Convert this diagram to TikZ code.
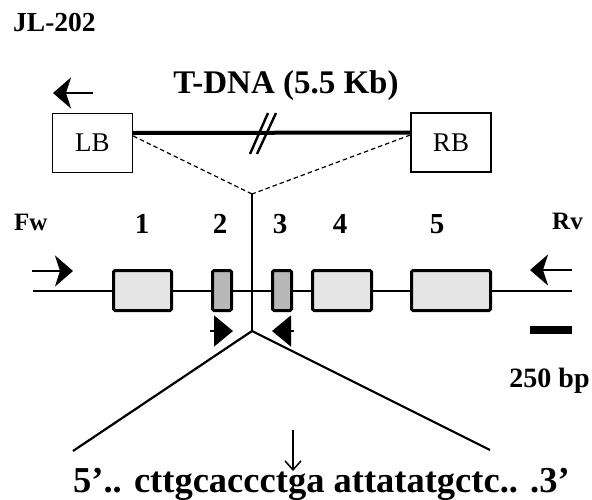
\documentclass[tikz,border=0pt]{standalone}
\usepackage{fontspec}
\setmainfont{Liberation Serif}
\usetikzlibrary{positioning, arrows.meta, calc}

\begin{document}
\begin{tikzpicture}[x=1pt, y=-1pt, >=latex,
    bordbox/.style={draw, line width=1.4pt, minimum width=80pt, minimum height=59pt,
        inner sep=0pt, font=\fontsize{27}{28}\selectfont},
    exon/.style={draw, line width=3pt, fill=black!10, minimum height=40pt,
        inner sep=0pt, rounded corners=1.5pt},
    primer/.style={line width=2.6pt, -{Stealth[length=18pt, width=31pt, inset=5pt]}},
    lbl/.style={anchor=base, inner sep=0pt, font=\fontsize{#1}{#1}\selectfont\bfseries},
]
\useasboundingbox (0,0) rectangle (592,499);

% --- Line name ---
\node[lbl=27.5, anchor=base west] (line) at (13,31) {JL-202};

% --- T-DNA insert ---
\node[bordbox] (LB) at (92.5,143) {LB};
\node[bordbox] (RB) at (451,142.5) {RB};
\node[lbl=33] (tdna) at (286,93) {T-DNA (5.5 Kb)};
\draw[line width=4pt] ([yshift=10pt]LB.east) -- ([yshift=10pt]RB.west);
% break marks
\coordinate (brk1a) at (250,154); \coordinate (brk1b) at (268,113);
\coordinate (brk2a) at (257,154); \coordinate (brk2b) at (276,113);
\draw[line width=2.4pt] (brk1a) -- (brk1b);
\draw[line width=2.4pt] (brk2a) -- (brk2b);
% LB primer
\coordinate (lbtail) at (93,93);
\coordinate (lbhead) at (53,93);
\draw[primer] (lbtail) -- (lbhead);

% --- Insertion site ---
\coordinate (ins) at (252,194);
\coordinate (apex) at (252,331);
\draw[line width=1.2pt, dash pattern=on 4.5pt off 3pt] ([yshift=7pt]LB.east) -- (ins);
\draw[line width=1.2pt, dash pattern=on 4.5pt off 3pt] ([yshift=7.5pt]RB.west) -- (ins);
\draw[line width=2pt] (ins) -- (apex);

% --- Gene ---
\coordinate (gstart) at (33,291);
\coordinate (gend) at (572,291);
\draw[line width=2.2pt] (gstart) -- (gend);
\node[exon, minimum width=58pt] (e1) at (142.5,290.5) {};
\node[exon, minimum width=19pt, fill=black!28] (e2) at (222,290.5) {};
\node[exon, minimum width=19pt, fill=black!28] (e3) at (282,290.5) {};
\node[exon, minimum width=59pt] (e4) at (342,290.5) {};
\node[exon, minimum width=79pt] (e5) at (451,290.5) {};

% exon numbers
\node[lbl=29] (n1) at (142,233) {1};
\node[lbl=29] (n2) at (220,233) {2};
\node[lbl=29] (n3) at (280,233) {3};
\node[lbl=29] (n4) at (340,233) {4};
\node[lbl=29] (n5) at (437,233) {5};

% Fw / Rv primers
\node[lbl=25, anchor=base west] (fw) at (14,230) {Fw};
\node[lbl=25, anchor=base west] (rv) at (552,229) {Rv};
\coordinate (fwtail) at (32,271); \coordinate (fwhead) at (73,271);
\coordinate (rvtail) at (572,270); \coordinate (rvhead) at (530,270);
\draw[primer] (fwtail) -- (fwhead);
\draw[primer] (rvtail) -- (rvhead);

% border primers
\coordinate (p1) at (210,331); \coordinate (p1h) at (233,331);
\coordinate (p2) at (294,331); \coordinate (p2h) at (272,331);
\draw[line width=1.5pt, -{Triangle[length=19pt, width=31pt]}] (p1) -- (p1h);
\draw[line width=1.5pt, -{Triangle[length=19pt, width=31pt]}] (p2) -- (p2h);

% scale bar
\coordinate (sb1) at (530,330); \coordinate (sb2) at (572,330);
\draw[line width=8pt] (sb1) -- (sb2);
\node[lbl=28] (sblbl) at (549.5,387) {250 bp};

% --- Flanking sequence ---
\coordinate (vl) at (73,451);
\coordinate (vr) at (490,450);
\draw[line width=2.2pt] (vl) -- (apex) -- (vr);
\node[lbl=36.5, anchor=base west] (seq) at (73,492) {5’.. cttgcaccctga attatatgctc.. .3’};
\coordinate (cut) at (293,430);
\coordinate (cuth) at (293,471);
\draw[line width=1.5pt, -{Straight Barb[length=9pt, width=16pt]}] (cut) -- (cuth);

\end{tikzpicture}
\end{document}
